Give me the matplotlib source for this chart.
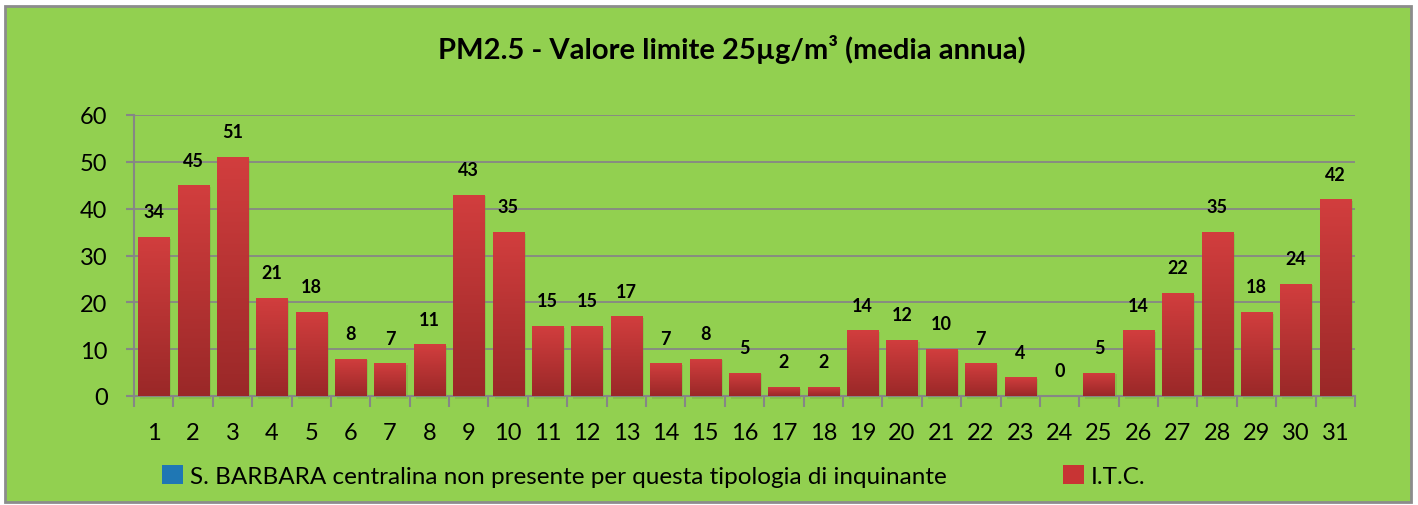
import matplotlib.pyplot as plt
import numpy as np
from matplotlib.patches import Rectangle
from matplotlib.colors import LinearSegmentedColormap

plt.rcParams['font.family'] = ['Lato', 'DejaVu Sans']

days = list(range(1, 32))
itc = [34, 45, 51, 21, 18, 8, 7, 11, 43, 35, 15, 15, 17, 7, 8, 5, 2, 2,
       14, 12, 10, 7, 4, 0, 5, 14, 22, 35, 18, 24, 42]
yticks = [0, 10, 20, 30, 40, 50, 60]
title = "PM2.5 - Valore limite 25µg/m³ (media annua)"
label_sb = "S. BARBARA centralina non presente per questa tipologia di inquinante"
label_itc = "I.T.C."

green = '#92D050'
grid_col = '#868686'

fig = plt.figure(figsize=(14.18, 5.06), dpi=100, facecolor='white')
fig.patches.append(Rectangle((5 / 1418, 3 / 506), 1406 / 1418, 496 / 506,
                             transform=fig.transFigure, facecolor=green,
                             edgecolor='#8C8C8C', linewidth=2, zorder=-5))

ax = fig.add_axes([134 / 1418, 109 / 506, 1221 / 1418, 281 / 506])
ax.set_facecolor('none')

bars = ax.bar(days, itc, width=0.79, color='#C83434', zorder=3, label=label_itc)
sb = ax.bar([], [], color='#3F72B5', label=label_sb)

# vertical gradient on each bar
cmap = LinearSegmentedColormap.from_list('red', ['#9A2828', '#D23E3E'])
grad = np.linspace(0, 1, 256).reshape(-1, 1)
for b in bars:
    h = b.get_height()
    if h <= 0:
        continue
    x0 = b.get_x()
    w = b.get_width()
    # soft shadow
    ax.add_patch(Rectangle((x0 + 0.05, -0.6), w, h + 0.2, facecolor='#6E9A3A',
                           alpha=0.3, edgecolor='none', zorder=2, clip_on=False))
    im = ax.imshow(grad, extent=(x0, x0 + w, 0, h), origin='lower', cmap=cmap,
                   aspect='auto', zorder=4)
    im.set_clip_path(b)

for d, v in zip(days, itc):
    ax.annotate(str(v), (d, v), xytext=(0, 12), textcoords='offset points',
                ha='center', va='bottom', fontsize=13, fontweight='bold', zorder=5)

ax.set_xlim(0.5, 31.5)
ax.set_ylim(0, 60)
ax.set_yticks(yticks)
ax.set_xticks(days)
ax.set_xticklabels([str(d) for d in days])
ax.set_xticks(np.arange(0.5, 32, 1), minor=True)
ax.tick_params(axis='x', which='major', length=0, pad=19, labelsize=17)
ax.tick_params(axis='x', which='minor', length=8, color=grid_col, width=1.5)
ax.tick_params(axis='y', length=6, color=grid_col, width=1.5, pad=13, labelsize=17)
ax.grid(axis='y', color=grid_col, linewidth=1.3, zorder=1)
ax.set_axisbelow(True)
for s in ['top', 'right']:
    ax.spines[s].set_visible(False)
for s in ['left', 'bottom']:
    ax.spines[s].set_color(grid_col)
    ax.spines[s].set_linewidth(1.5)

fig.text(732 / 1418, 1 - 50 / 506, title, ha='center', va='center',
         fontsize=21, fontweight='bold')

leg = fig.legend(handles=[sb, bars], labels=[label_sb, label_itc],
                 loc='center left', bbox_to_anchor=(140 / 1418, 1 - 477 / 506),
                 ncol=2, frameon=False, fontsize=17.5, handlelength=0.85,
                 handleheight=0.85, handletextpad=0.3, columnspacing=4.8)

fig.savefig('out.png', dpi=100, facecolor='white')
